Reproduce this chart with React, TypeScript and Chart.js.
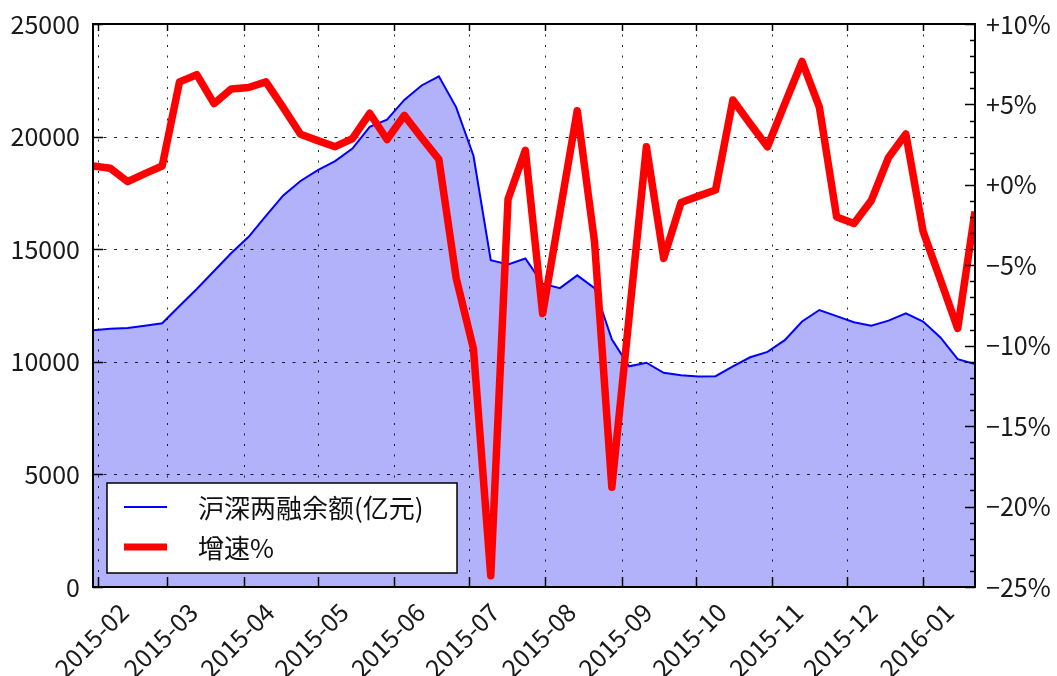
import React, { useEffect, useRef } from 'react';
import { Chart, registerables } from 'chart.js';

Chart.register(...registerables);

// ---------- data ----------
const dates: string[] = [
  '2015-01-30', '2015-02-06', '2015-02-13', '2015-02-20', '2015-02-27',
  '2015-03-06', '2015-03-13', '2015-03-20', '2015-03-27',
  '2015-04-03', '2015-04-10', '2015-04-17', '2015-04-24',
  '2015-05-01', '2015-05-08', '2015-05-15', '2015-05-22', '2015-05-29',
  '2015-06-05', '2015-06-12', '2015-06-19', '2015-06-26',
  '2015-07-03', '2015-07-10', '2015-07-17', '2015-07-24', '2015-07-31',
  '2015-08-07', '2015-08-14', '2015-08-21', '2015-08-28',
  '2015-09-04', '2015-09-11', '2015-09-18', '2015-09-25',
  '2015-10-02', '2015-10-09', '2015-10-16', '2015-10-23', '2015-10-30',
  '2015-11-06', '2015-11-13', '2015-11-20', '2015-11-27',
  '2015-12-04', '2015-12-11', '2015-12-18', '2015-12-25',
  '2016-01-01', '2016-01-08', '2016-01-15', '2016-01-22',
];

// 沪深两融余额 (亿元)
const balance: number[] = [
  11400, 11470, 11500, 11600, 11710,
  12480, 13230, 14030, 14830,
  15550, 16480, 17390, 18030,
  18510, 18910, 19470, 20430, 20750,
  21630, 22270, 22680, 21300,
  19150, 14510, 14320, 14590, 13470,
  13270, 13840, 13270, 11000,
  9800, 9960, 9510, 9400,
  9350, 9360, 9800, 10200, 10440,
  10960, 11790, 12300, 12030,
  11760, 11600, 11830, 12150,
  11790, 11080, 10120, 9900,
];

// 增速 (%)
const growth: number[] = [
  1.18, 1.03, 0.2, 0.7, 1.17,
  6.4, 6.85, 5.05, 5.96,
  6.05, 6.4, 4.8, 3.15,
  2.75, 2.37, 2.88, 4.45, 2.82,
  4.32, 2.93, 1.58, -5.8,
  -10.2, -24.3, -0.88, 2.15, -8.0,
  -1.7, 4.61, -3.55, -18.8,
  -8.2, 2.37, -4.57, -1.1,
  -0.7, -0.32, 5.28, 3.8, 2.37,
  5.04, 7.67, 4.83, -2.0,
  -2.4, -0.98, 1.7, 3.16,
  -2.9, -5.9, -8.93, -1.66,
];

const monthTickDates: string[] = [
  '2015-02-01', '2015-03-01', '2015-04-01', '2015-05-01', '2015-06-01', '2015-07-01',
  '2015-08-01', '2015-09-01', '2015-10-01', '2015-11-01', '2015-12-01', '2016-01-01',
];
const monthLabels: string[] = [
  '2015-02', '2015-03', '2015-04', '2015-05', '2015-06', '2015-07',
  '2015-08', '2015-09', '2015-10', '2015-11', '2015-12', '2016-01',
];
const leftTicks: number[] = [0, 5000, 10000, 15000, 20000, 25000];
const rightTicks: number[] = [-25, -20, -15, -10, -5, 0, 5, 10];

const seriesNames = ['沪深两融余额(亿元)', '增速%'];

// ---------- helpers ----------
const DAY = 86400000;
const origin = Date.parse(dates[0]);
const dayOf = (d: string) => Math.round((Date.parse(d) - origin) / DAY);
const xs = dates.map(dayOf);
const monthOffsets = monthTickDates.map(dayOf);
const xMax = xs[xs.length - 1];

const FONT = '"Noto Sans CJK JP", "Noto Sans", sans-serif';

const decorPlugin = {
  id: 'decor',
  beforeDatasetDraw(chart: any, args: any) {
    if (args.index !== 0) return; // draw grid above blue fill, below red line
    const { ctx, chartArea: a, scales } = chart;
    ctx.save();
    ctx.strokeStyle = 'rgba(0,0,0,0.85)';
    ctx.lineWidth = 1;
    ctx.setLineDash([2, 8.5]);
    monthOffsets.forEach((v) => {
      const x = Math.round(scales.x.getPixelForValue(v)) + 0.5;
      ctx.beginPath();
      ctx.moveTo(x, a.top);
      ctx.lineTo(x, a.bottom);
      ctx.stroke();
    });
    ctx.setLineDash([3, 7.5]);
    leftTicks.forEach((v) => {
      if (v === 0 || v === 25000) return;
      const y = Math.round(scales.y.getPixelForValue(v)) + 0.5;
      ctx.beginPath();
      ctx.moveTo(a.left, y);
      ctx.lineTo(a.right, y);
      ctx.stroke();
    });
    ctx.restore();
  },
  afterDatasetsDraw(chart: any) {
    const { ctx, chartArea: a, scales } = chart;
    ctx.save();
    ctx.setLineDash([]);
    ctx.strokeStyle = '#000';
    // ticks
    ctx.lineWidth = 1.5;
    ctx.beginPath();
    monthOffsets.forEach((v) => {
      const x = Math.round(scales.x.getPixelForValue(v)) + 0.5;
      ctx.moveTo(x, a.bottom);
      ctx.lineTo(x, a.bottom - 10);
      ctx.moveTo(x, a.top);
      ctx.lineTo(x, a.top + 7);
    });
    leftTicks.forEach((v) => {
      const y = Math.round(scales.y.getPixelForValue(v)) + 0.5;
      ctx.moveTo(a.left, y);
      ctx.lineTo(a.left + 10, y);
    });
    for (let v = -25; v <= 10; v++) {
      const y = Math.round(scales.y2.getPixelForValue(v)) + 0.5;
      const len = v % 5 === 0 ? 10 : 5;
      ctx.moveTo(a.right, y);
      ctx.lineTo(a.right - len, y);
    }
    ctx.stroke();
    // frame
    ctx.lineWidth = 2;
    ctx.strokeRect(a.left, a.top, a.right - a.left, a.bottom - a.top);

    // legend
    const lx = a.left + 14;
    const lw = 350;
    const lh = 90;
    const ly = a.bottom - 14 - lh;
    ctx.fillStyle = '#fff';
    ctx.fillRect(lx, ly, lw, lh);
    ctx.lineWidth = 1.5;
    ctx.strokeStyle = '#000';
    ctx.strokeRect(lx, ly, lw, lh);
    const rows = [
      { color: '#0000ff', width: 2, text: seriesNames[0], y: ly + 24 },
      { color: '#ff0000', width: 7, text: seriesNames[1], y: ly + 64 },
    ];
    rows.forEach((r) => {
      ctx.strokeStyle = r.color;
      ctx.lineWidth = r.width;
      ctx.beginPath();
      ctx.moveTo(lx + 17, r.y);
      ctx.lineTo(lx + 60, r.y);
      ctx.stroke();
      ctx.fillStyle = '#111';
      ctx.font = `26px ${FONT}`;
      ctx.textBaseline = 'middle';
      ctx.textAlign = 'left';
      ctx.fillText(r.text, lx + 91, r.y + 1);
    });
    ctx.restore();
  },
};

const zeroPad = (s: any) => {
  s.paddingTop = 0;
  s.paddingBottom = 0;
  s.paddingLeft = 0;
  s.paddingRight = 0;
};

export default function App() {
  const ref = useRef<HTMLCanvasElement | null>(null);

  useEffect(() => {
    if (!ref.current) return;
    const tickFont = { family: FONT, size: 25 };
    const chart = new Chart(ref.current, {
      type: 'line',
      data: {
        datasets: [
          {
            label: seriesNames[1],
            data: xs.map((x, i) => ({ x, y: growth[i] })),
            yAxisID: 'y2',
            borderColor: '#ff0000',
            borderWidth: 7.5,
            borderJoinStyle: 'round',
            pointRadius: 0,
            fill: false,
            tension: 0,
            order: 1,
          },
          {
            label: seriesNames[0],
            data: xs.map((x, i) => ({ x, y: balance[i] })),
            yAxisID: 'y',
            borderColor: '#0000ff',
            borderWidth: 2,
            backgroundColor: '#b2b2fa',
            pointRadius: 0,
            fill: 'origin',
            tension: 0,
            order: 2,
          },
        ],
      } as any,
      options: {
        animation: false,
        responsive: false,
        maintainAspectRatio: false,
        devicePixelRatio: 1,
        layout: { padding: { top: 24, left: 0, right: 0, bottom: 0 } },
        plugins: { legend: { display: false }, tooltip: { enabled: false } },
        scales: {
          x: {
            type: 'linear',
            min: 0,
            max: xMax,
            grid: { display: false, drawTicks: false },
            border: { display: false },
            afterBuildTicks: (s: any) => {
              s.ticks = monthOffsets.map((v) => ({ value: v }));
            },
            afterFit: (s: any) => {
              s.height = 89;
              zeroPad(s);
            },
            ticks: {
              autoSkip: false,
              minRotation: 45,
              maxRotation: 45,
              labelOffset: 26,
              padding: 10,
              color: '#1a1a1a',
              font: tickFont,
              callback: (v: any) => {
                const k = monthOffsets.indexOf(Number(v));
                return k >= 0 ? monthLabels[k] : '';
              },
            },
          },
          y: {
            position: 'left',
            min: 0,
            max: 25000,
            grid: { display: false, drawTicks: false },
            border: { display: false },
            afterBuildTicks: (s: any) => {
              s.ticks = leftTicks.map((v) => ({ value: v }));
            },
            afterFit: (s: any) => {
              s.width = 93;
              zeroPad(s);
            },
            ticks: {
              padding: 13,
              color: '#1a1a1a',
              font: tickFont,
              callback: (v: any) => String(v),
            },
          },
          y2: {
            position: 'right',
            min: -25,
            max: 10,
            grid: { display: false, drawTicks: false },
            border: { display: false },
            afterBuildTicks: (s: any) => {
              s.ticks = rightTicks.map((v) => ({ value: v }));
            },
            afterFit: (s: any) => {
              s.width = 82;
              zeroPad(s);
            },
            ticks: {
              padding: 11,
              color: '#1a1a1a',
              font: tickFont,
              callback: (v: any) => {
                const n = Number(v);
                return (n < 0 ? '\u2212' : '+') + Math.abs(n) + '%';
              },
            },
          },
        },
      } as any,
      plugins: [decorPlugin],
    });
    return () => chart.destroy();
  }, []);

  return (
    <div
      style={{
        position: 'fixed',
        left: 0,
        top: 0,
        width: 1057,
        height: 676,
        background: '#fff',
      }}
    >
      <canvas ref={ref} width={1057} height={676} style={{ width: 1057, height: 676, display: 'block' }} />
    </div>
  );
}
